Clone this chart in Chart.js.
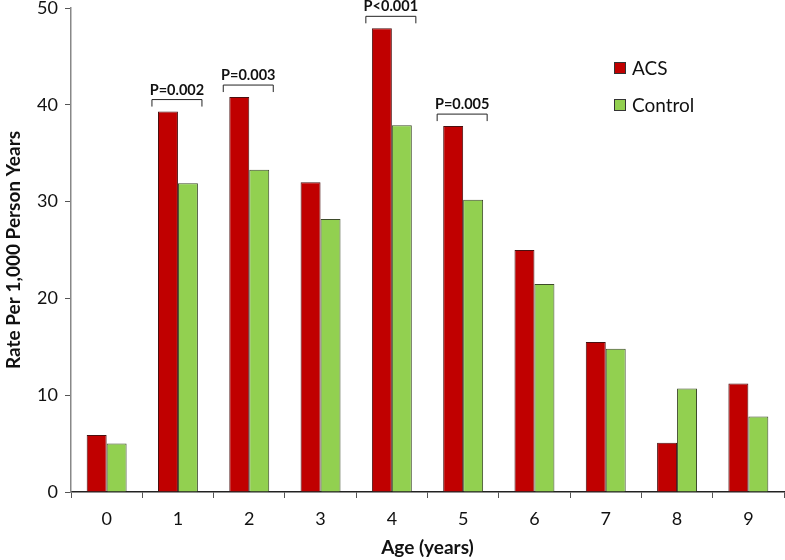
<!DOCTYPE html>
<html>
<head>
<meta charset="utf-8">
<script src="https://cdn.jsdelivr.net/npm/chart.js@4"></script>
<style>
  body { margin: 0; background: #fff; }
  #wrap { width: 785px; height: 560px; }
</style>
</head>
<body>
<div id="wrap"><canvas id="myBarChart"></canvas></div>
<script>
// data
const ages = ["0", "1", "2", "3", "4", "5", "6", "7", "8", "9"];
const acsRates = [5.9, 39.3, 40.8, 32.0, 47.9, 37.8, 25.0, 15.5, 5.1, 11.2];
const controlRates = [5.0, 31.9, 33.3, 28.2, 37.9, 30.2, 21.5, 14.8, 10.7, 7.8];
const pAges = [1, 2, 4, 5];
const pLabels = ["P=0.002", "P=0.003", "P<0.001", "P=0.005"];

const FONT = "Lato, 'Open Sans', sans-serif";

// brackets with p values above the marked groups
const pValuePlugin = {
  id: "pValues",
  afterDatasetsDraw(chart) {
    const ctx = chart.ctx;
    const x = chart.scales.x, y = chart.scales.y;
    ctx.save();
    ctx.strokeStyle = "#222";
    ctx.lineWidth = 1;
    ctx.fillStyle = "#111";
    ctx.font = "bold 14.5px " + FONT;
    ctx.textAlign = "center";
    ctx.textBaseline = "alphabetic";
    pAges.forEach((age, i) => {
      const cx = x.getPixelForValue(age);
      const top = y.getPixelForValue(Math.max(acsRates[age], controlRates[age])) - 12;
      ctx.beginPath();
      ctx.moveTo(cx - 26, top + 7);
      ctx.lineTo(cx - 26, top);
      ctx.lineTo(cx + 24, top);
      ctx.lineTo(cx + 24, top + 7);
      ctx.stroke();
      ctx.fillText(pLabels[i], cx - 1, top - 5);
    });
    ctx.restore();
  }
};

// legend drawn inside the plot, top right
const innerLegend = {
  id: "innerLegend",
  afterDraw(chart) {
    const ctx = chart.ctx;
    ctx.save();
    ctx.font = "19px " + FONT;
    ctx.textBaseline = "middle";
    chart.data.datasets.forEach((ds, i) => {
      const ly = 68 + i * 37;
      ctx.fillStyle = ds.backgroundColor;
      ctx.fillRect(614, ly - 6, 12, 12);
      ctx.strokeStyle = "#333";
      ctx.lineWidth = 1;
      ctx.strokeRect(614.5, ly - 5.5, 11, 11);
      ctx.fillStyle = "#111";
      ctx.fillText(ds.label, 632, ly + 1);
    });
    ctx.restore();
  }
};

let barChart = document.getElementById("myBarChart").getContext("2d");
let myBarChart = new Chart(barChart, {
  type: "bar",
  data: {
    labels: ages,
    datasets: [
      {
        label: "ACS",
        data: acsRates,
        backgroundColor: "#C00000",
        borderColor: "#4a1010",
        borderWidth: 1
      },
      {
        label: "Control",
        data: controlRates,
        backgroundColor: "#92D050",
        borderColor: "#3d4a2a",
        borderWidth: 1
      }
    ]
  },
  options: {
    responsive: true,
    maintainAspectRatio: false,
    animation: false,
    layout: { padding: { left: 2, right: 1, top: 8, bottom: 0 } },
    plugins: {
      legend: { display: false },
      tooltip: { enabled: false }
    },
    datasets: {
      bar: { categoryPercentage: 0.56, barPercentage: 1.0 }
    },
    scales: {
      x: {
        afterFit: s => { s.height = 68; },
        grid: {
          offset: true,
          drawOnChartArea: false,
          tickLength: 6,
          color: "#555"
        },
        border: { color: "#222", width: 1.5 },
        ticks: { color: "#111", padding: 10, font: { family: FONT, size: 18 } },
        title: {
          display: true,
          text: "Age (years)",
          color: "#111",
          padding: { top: 0, bottom: 1 },
          font: { family: FONT, size: 19, weight: "bold" }
        }
      },
      y: {
        min: 0,
        max: 50,
        afterFit: s => { s.width = 69; s.paddingTop = 0; s.paddingBottom = 0; },
        grid: {
          drawOnChartArea: false,
          tickLength: 6,
          color: "#555"
        },
        border: { color: "#888", width: 1.5 },
        ticks: { stepSize: 10, color: "#111", padding: 7, font: { family: FONT, size: 18 } },
        title: {
          display: true,
          text: "Rate Per 1,000 Person Years",
          color: "#111",
          padding: { top: 0, bottom: 0 },
          font: { family: FONT, size: 19, weight: "bold" }
        }
      }
    }
  },
  plugins: [pValuePlugin, innerLegend]
});
</script>
</body>
</html>
